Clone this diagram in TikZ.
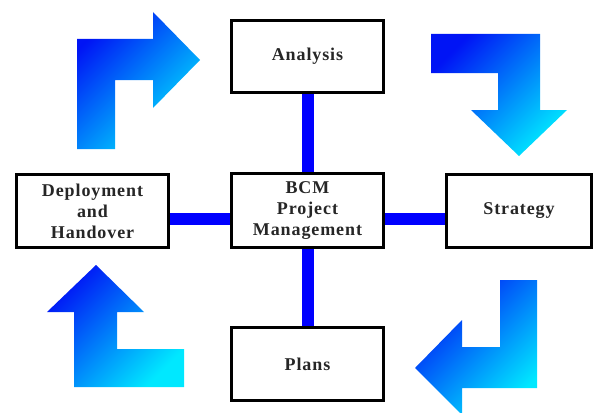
\documentclass[tikz,border=0pt]{standalone}
\usepackage{fontspec}
\setmainfont{Liberation Serif}
\newfontfamily\boxfont[LetterSpace=5]{Liberation Serif}
\usetikzlibrary{backgrounds}
\definecolor{arrowblue}{RGB}{0,20,245}
\definecolor{arrowcyan}{RGB}{0,232,255}
\definecolor{linkblue}{RGB}{0,0,255}
\tikzset{
  stagebox/.style={draw=black, line width=3pt, fill=white, rectangle, inner sep=0pt,
    align=center, font=\boxfont\fontsize{18}{21}\selectfont\bfseries, text=black!85},
  link/.style={draw=linkblue, line width=12pt},
  turnarrow/.style={top color=arrowblue, bottom color=arrowcyan, shading angle=45, draw=none}
}
\begin{document}
\begin{tikzpicture}[x=1pt,y=-1pt]
\useasboundingbox (0,0) rectangle (596,412);
% gradient turning arrows
\shade[turnarrow] (77,149) -- (77,39) -- (153,39) -- (153,12) -- (200,60) -- (153,108) -- (153,80) -- (115,80) -- (115,149) -- cycle;
\shade[turnarrow] (431,34) -- (540,34) -- (540,110) -- (567,110) -- (519,156) -- (471,110) -- (498,110) -- (498,73) -- (431,73) -- cycle;
\shade[turnarrow] (96,265) -- (144,312) -- (117,312) -- (117,349) -- (184,349) -- (184,387) -- (74,387) -- (74,312) -- (47,312) -- cycle;
\shade[turnarrow] (500,280) -- (537,280) -- (537,388) -- (462,388) -- (462,415) -- (415,368) -- (462,320) -- (462,347) -- (500,347) -- cycle;
% boxes
\node[stagebox, minimum width=152pt, minimum height=72pt] (ana) at (307.5,56.5) {Analysis};
\node[stagebox, minimum width=152pt, minimum height=74pt] (bcm) at (307.5,210.5) {BCM\\Project\\Management};
\node[stagebox, minimum width=152pt, minimum height=73pt] (dep) at (92.5,211) {Deployment\\and\\Handover};
\node[stagebox, minimum width=145pt, minimum height=73pt] (str) at (519,211) {Strategy};
\node[stagebox, minimum width=152pt, minimum height=73pt] (pla) at (307.5,364) {Plans};
\coordinate (hy) at (0,218.5);
% connectors
\begin{scope}[on background layer]
\draw[link] (ana.south) -- (bcm.north);
\draw[link] (bcm.south) -- (pla.north);
\draw[link] (dep.east |- hy) -- (bcm.west |- hy);
\draw[link] (bcm.east |- hy) -- (str.west |- hy);
\end{scope}
\end{tikzpicture}
\end{document}
